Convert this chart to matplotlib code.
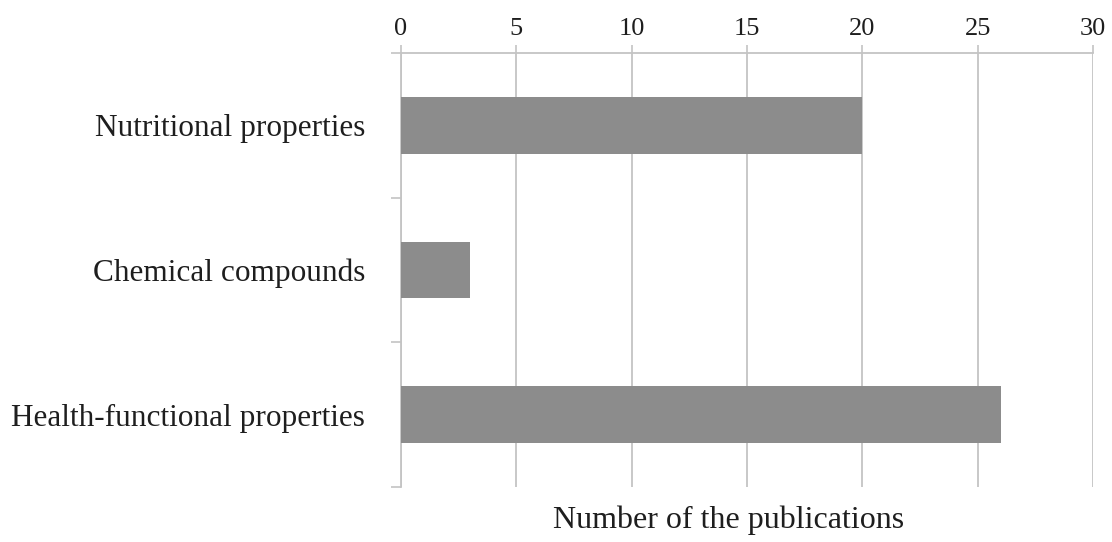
import matplotlib
matplotlib.use("Agg")
import matplotlib.pyplot as plt
from matplotlib.ticker import FixedLocator

categories = ["Nutritional properties", "Chemical compounds", "Health-functional properties"]
publications = [20, 3, 26]
x_ticks = [0, 5, 10, 15, 20, 25, 30]

plt.rcParams["font.family"] = ["Liberation Serif", "DejaVu Serif"]

fig = plt.figure(figsize=(11.12, 5.42), dpi=100)
ax = fig.add_axes([401 / 1112, 1 - 487 / 542, (1093 - 401) / 1112, (487 - 53) / 542])

positions = list(range(len(categories)))
ax.barh(positions, publications, height=0.39, color="#8c8c8c", zorder=3)

ax.set_xlim(0, 30)
ax.set_ylim(len(categories) - 0.5, -0.5)

grid_color = "#c4c4c4"
ax.set_xticks(x_ticks)
ax.set_xticklabels([str(t) for t in x_ticks], fontsize=19, color="#1e1e1e")
ax.xaxis.tick_top()
ax.tick_params(axis="x", which="major", length=6, width=1.2, color=grid_color, pad=3.5)
ax.grid(axis="x", color=grid_color, linewidth=1.3, zorder=0)

ax.set_yticks(positions)
ax.set_yticklabels(categories, fontsize=22.5, color="#1e1e1e")
ax.tick_params(axis="y", which="major", length=0, pad=26)
ax.yaxis.set_minor_locator(FixedLocator([-0.5, 0.5, 1.5, 2.5]))
ax.tick_params(axis="y", which="minor", length=7, width=1.2, color=grid_color)

for side in ("bottom", "right"):
    ax.spines[side].set_visible(False)
for side in ("top", "left"):
    ax.spines[side].set_color(grid_color)
    ax.spines[side].set_linewidth(1.3)

fig.text(729 / 1112, 1 - 520 / 542, "Number of the publications", fontsize=23,
         color="#1e1e1e", ha="center", va="center")

fig.savefig("out.png", dpi=100)
